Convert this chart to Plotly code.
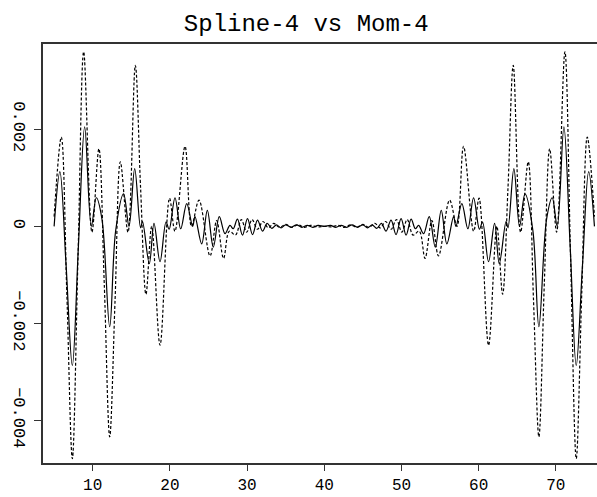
import plotly.graph_objects as go

# Spline-4 trace (solid)
spline_x = [5.0, 5.75, 6.55, 7.36, 8.15, 8.96, 9.82, 10.47, 11.2, 12.2,
            12.98, 14.0, 14.7, 15.44, 16.2, 16.45, 17.33, 17.94, 18.72, 19.5,
            19.9, 20.66, 21.4, 22.18, 22.95, 23.25, 24.12, 24.85, 25.62, 26.4,
            27.14, 27.78, 28.2, 28.75, 29.4, 30.05, 30.7, 31.35, 32.0, 32.6,
            33.2, 33.8, 34.4, 35.0, 35.7, 36.4, 37.1, 37.8, 38.5, 39.2,
            40.0,
            40.8, 41.5, 42.2, 42.9, 43.6, 44.3, 45.0, 45.6, 46.2, 46.8,
            47.4, 48.0, 48.65, 49.3, 49.95, 50.6, 51.25, 51.8, 52.22, 52.86,
            53.6, 54.38, 55.15, 55.88, 56.75, 57.05, 57.82, 58.6, 59.34, 60.1,
            60.5, 61.28, 62.06, 62.67, 63.55, 63.8, 64.56, 65.3, 66.0, 67.02,
            67.8, 68.8, 69.53, 70.18, 71.04, 71.85, 72.64, 73.45, 74.25, 75.0]
spline_y = [0.0, 0.00113, -0.0008, -0.00287, -0.0004, 0.00205, 0.0, 0.00059, 0.00015, -0.00207,
            -0.00008, 0.00067, 0.0, 0.00119, -0.00003, 0.0001, -0.00077, 0.00006, -0.00073, 0.00009,
            -0.00006, 0.00059, -0.00005, 0.00047, 0.0, 0.0002, -0.00036, 0.00033, -0.00043, 0.0002,
            -0.00015, 0.00002, -0.00005, 0.00015, -0.00018, 0.00016, -0.00017, 0.00013, -0.0001, 0.00006,
            -0.00004, 0.00003, -0.00003, 0.00003, -0.00002, 0.00003, -0.00002, 0.00002, -0.00002, 0.00002,
            0.0,
            0.00002, -0.00002, 0.00002, -0.00002, 0.00003, -0.00002, 0.00003, -0.00003, 0.00003, -0.00004,
            0.00006, -0.0001, 0.00013, -0.00017, 0.00016, -0.00018, 0.00015, -0.00005, 0.00002, -0.00015,
            0.0002, -0.00043, 0.00033, -0.00036, 0.0002, 0.0, 0.00047, -0.00005, 0.00059, -0.00006,
            0.00009, -0.00073, 0.00006, -0.00077, 0.0001, -0.00003, 0.00119, 0.0, 0.00067, -0.00008,
            -0.00207, 0.00015, 0.00059, 0.0, 0.00205, -0.0004, -0.00287, -0.0008, 0.00113, 0.0]

# Mom-4 trace (dashed)
mom_x = [5.0, 5.93, 6.65, 7.36, 8.1, 8.83, 9.9, 10.8, 11.5, 12.2,
         12.9, 13.58, 14.57, 15.52, 16.2, 16.9, 17.64, 18.72, 19.95, 20.65,
         21.96, 22.8, 23.77, 25.2, 26.06, 26.95, 27.7, 28.5, 29.25, 29.95,
         30.65, 31.35, 32.05, 32.75, 33.45, 34.2, 35.0, 35.8, 36.6, 37.4,
         38.2, 39.1, 40.0,
         40.9, 41.8, 42.6, 43.4, 44.2, 45.0, 45.8, 46.55, 47.25, 47.95,
         48.65, 49.35, 50.05, 50.75, 51.5, 52.3, 53.05, 53.94, 54.8, 56.23,
         57.2, 58.04, 59.35, 60.05, 61.28, 62.36, 63.1, 63.8, 64.48, 65.43,
         66.42, 67.1, 67.8, 68.5, 69.2, 70.1, 71.17, 71.9, 72.64, 73.35,
         74.07, 75.0]
mom_y = [0.0002, 0.00184, -0.0014, -0.00479, -0.0006, 0.0036, -0.00012, 0.0016, -0.0012, -0.00434,
         -0.0015, 0.00133, -0.00012, 0.00332, 0.0008, -0.0014, 0.0, -0.00245, 0.00058, -0.0001,
         0.00165, 0.0, 0.00054, -0.00061, 0.00012, -0.00066, -0.0001, -0.00018, 0.00014, -0.00012,
         0.00014, -0.00006, 0.0001, -0.00003, 0.00006, -0.00002, 0.00004, -0.00002, 0.00003, -0.00002,
         0.00002, -0.00001, 0.0,
         -0.00001, 0.00002, -0.00002, 0.00003, -0.00002, 0.00004, -0.00002, 0.00006, -0.00003, 0.0001,
         -0.00006, 0.00014, -0.00012, 0.00014, -0.00018, -0.0001, -0.00066, 0.00012, -0.00061, 0.00054,
         0.0, 0.00165, -0.0001, 0.00058, -0.00245, 0.0, -0.0014, 0.0008, 0.00332, -0.00012,
         0.00133, -0.0015, -0.00434, -0.0012, 0.0016, -0.00012, 0.0036, -0.0006, -0.00479, -0.0014,
         0.00184, 0.0002]

x_ticks = [10, 20, 30, 40, 50, 60, 70]
y_ticks = [-0.004, -0.002, 0, 0.002]
y_tick_text = ["\u22120.004", "\u22120.002", "0", "0.002"]

title = 'Spline-4 vs Mom-4'
font_family = 'Liberation Mono'

fig = go.Figure()
fig.add_trace(go.Scatter(x=mom_x, y=mom_y, mode='lines',
                         line=dict(color='black', width=1.2, dash='3px,2px', shape='spline', smoothing=1.0)))
fig.add_trace(go.Scatter(x=spline_x, y=spline_y, mode='lines',
                         line=dict(color='black', width=1.2, shape='spline', smoothing=1.0)))

fig.update_layout(
    width=597, height=497,
    margin=dict(l=43, r=0, t=44, b=34, autoexpand=False),
    paper_bgcolor='white', plot_bgcolor='white',
    showlegend=False,
    title=dict(text=title, xref='container', x=0.513, xanchor='center', y=0.955, yanchor='middle',
               font=dict(family=font_family, size=24, color='black')),
    font=dict(family=font_family, color='black'),
)
fig.update_xaxes(range=[3.56, 75.33], tickvals=x_ticks, ticks='outside', ticklen=6, tickcolor='#333',
                 showline=True, linecolor='#333', linewidth=1.5, mirror=True, automargin=False,
                 ticklabelstandoff=0,
                 showgrid=False, zeroline=False, tickfont=dict(size=16, family=font_family, color='black'))
fig.update_yaxes(range=[-0.00488, 0.00376], tickvals=y_ticks, ticktext=y_tick_text, tickangle=90,
                 ticks='outside', ticklen=7, tickcolor='#333', automargin=False,
                 showline=True, linecolor='#333', linewidth=1.5, mirror=False,
                 showgrid=False, zeroline=False, tickfont=dict(size=17, family=font_family, color='black'))

# page body has an 8px default margin, drop it so the figure sits at 0,0
fig.write_html("out.html", config={'displayModeBar': False},
               post_script="document.body.style.margin='0';document.documentElement.style.overflow='hidden';")
